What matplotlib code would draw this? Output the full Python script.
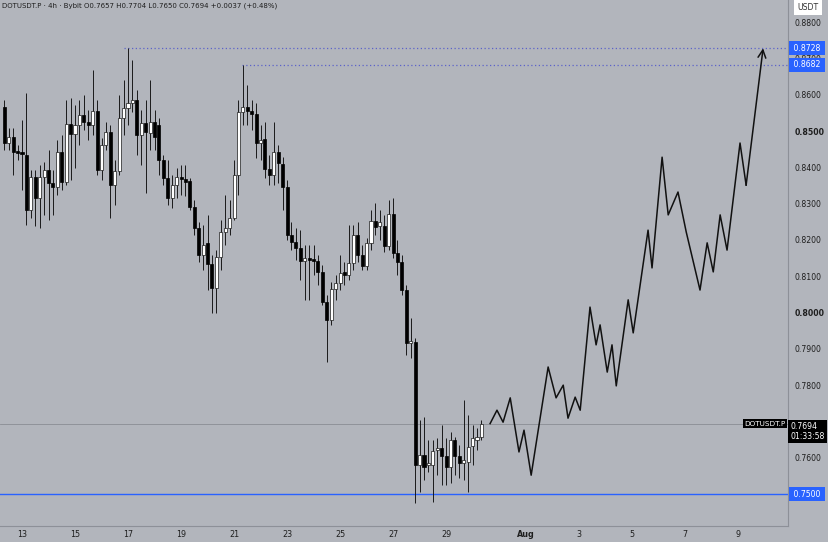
import numpy as np
import pandas as pd
import matplotlib.pyplot as plt

# 4h candles, DOTUSDT.P
opens = [0.8566, 0.8467, 0.8484, 0.8445, 0.8442, 0.8434, 0.8282, 0.8373, 0.8316, 0.8373,
         0.8393, 0.8357, 0.8346, 0.8442, 0.8360, 0.8519, 0.8492, 0.8517, 0.8544, 0.8525,
         0.8517, 0.8555, 0.8393, 0.8462, 0.8497, 0.8351, 0.8390, 0.8536, 0.8563, 0.8577,
         0.8586, 0.8489, 0.8522, 0.8495, 0.8525, 0.8517, 0.8420, 0.8371, 0.8316, 0.8351,
         0.8373, 0.8368, 0.8362, 0.8291, 0.8233, 0.8159, 0.8192, 0.8134, 0.8068, 0.8153,
         0.8222, 0.8233, 0.8260, 0.8379, 0.8552, 0.8566, 0.8555, 0.8547, 0.8467, 0.8478,
         0.8395, 0.8379, 0.8442, 0.8409, 0.8346, 0.8214, 0.8194, 0.8178, 0.8142, 0.8150,
         0.8148, 0.8142, 0.8112, 0.8029, 0.7979, 0.8065, 0.8081, 0.8112, 0.8103, 0.8136,
         0.8214, 0.8159, 0.8128, 0.8192, 0.8252, 0.8238, 0.8238, 0.8183, 0.8271, 0.8164,
         0.8139, 0.8062, 0.7916, 0.7919, 0.7580, 0.7608, 0.7580, 0.7580, 0.7621, 0.7627,
         0.7605, 0.7574, 0.7649, 0.7605, 0.7585, 0.7588, 0.7632, 0.7649, 0.7657]
highs = [0.8586, 0.8508, 0.8508, 0.8462, 0.8530, 0.8605, 0.8393, 0.8393, 0.8406, 0.8415,
         0.8448, 0.8393, 0.8475, 0.8489, 0.8586, 0.8591, 0.8572, 0.8586, 0.8599, 0.8558,
         0.8668, 0.8586, 0.8481, 0.8525, 0.8517, 0.8420, 0.8599, 0.8641, 0.8728, 0.8696,
         0.8613, 0.8558, 0.8586, 0.8641, 0.8558, 0.8536, 0.8434, 0.8420, 0.8379, 0.8398,
         0.8406, 0.8406, 0.8371, 0.8310, 0.8249, 0.8241, 0.8269, 0.8159, 0.8172, 0.8255,
         0.8324, 0.8310, 0.8420, 0.8586, 0.8682, 0.8627, 0.8586, 0.8577, 0.8517, 0.8525,
         0.8434, 0.8525, 0.8462, 0.8428, 0.8365, 0.8249, 0.8233, 0.8227, 0.8186, 0.8186,
         0.8186, 0.8159, 0.8131, 0.8048, 0.8084, 0.8103, 0.8159, 0.8139, 0.8241, 0.8241,
         0.8249, 0.8186, 0.8205, 0.8282, 0.8302, 0.8282, 0.8269, 0.8310, 0.8316, 0.8200,
         0.8159, 0.8076, 0.7985, 0.7930, 0.7704, 0.7712, 0.7649, 0.7649, 0.7654, 0.7690,
         0.7654, 0.7671, 0.7657, 0.7635, 0.7759, 0.7718, 0.7690, 0.7682, 0.7704]
lows = [0.8448, 0.8448, 0.8379, 0.8420, 0.8338, 0.8241, 0.8260, 0.8238, 0.8233, 0.8269,
        0.8255, 0.8269, 0.8324, 0.8338, 0.8351, 0.8365, 0.8398, 0.8462, 0.8503, 0.8475,
        0.8489, 0.8379, 0.8365, 0.8448, 0.8260, 0.8296, 0.8379, 0.8489, 0.8517, 0.8552,
        0.8434, 0.8406, 0.8329, 0.8448, 0.8448, 0.8379, 0.8351, 0.8296, 0.8288, 0.8316,
        0.8324, 0.8321, 0.8282, 0.8214, 0.8139, 0.8117, 0.8062, 0.7999, 0.7999, 0.8117,
        0.8186, 0.8214, 0.8255, 0.8324, 0.8517, 0.8517, 0.8503, 0.8426, 0.8420, 0.8371,
        0.8351, 0.8351, 0.8357, 0.8282, 0.8200, 0.8172, 0.8145, 0.8090, 0.8035, 0.8035,
        0.8103, 0.8076, 0.8021, 0.7864, 0.7966, 0.8035, 0.8062, 0.8076, 0.8090, 0.8117,
        0.8139, 0.8117, 0.8117, 0.8172, 0.8214, 0.8200, 0.8167, 0.8172, 0.8150, 0.8103,
        0.8048, 0.7883, 0.7875, 0.7475, 0.7506, 0.7539, 0.7561, 0.7478, 0.7552, 0.7525,
        0.7525, 0.7530, 0.7552, 0.7544, 0.7539, 0.7506, 0.7580, 0.7621, 0.7650]
closes = [0.8467, 0.8484, 0.8442, 0.8440, 0.8437, 0.8282, 0.8373, 0.8316, 0.8373, 0.8393,
          0.8357, 0.8346, 0.8442, 0.8360, 0.8519, 0.8492, 0.8517, 0.8544, 0.8525, 0.8517,
          0.8555, 0.8393, 0.8462, 0.8497, 0.8351, 0.8390, 0.8536, 0.8563, 0.8577, 0.8586,
          0.8489, 0.8522, 0.8497, 0.8525, 0.8484, 0.8420, 0.8371, 0.8316, 0.8351, 0.8373,
          0.8368, 0.8360, 0.8291, 0.8233, 0.8159, 0.8186, 0.8134, 0.8068, 0.8153, 0.8222,
          0.8233, 0.8260, 0.8379, 0.8552, 0.8566, 0.8555, 0.8547, 0.8467, 0.8475, 0.8395,
          0.8379, 0.8442, 0.8412, 0.8346, 0.8214, 0.8194, 0.8178, 0.8142, 0.8150, 0.8145,
          0.8142, 0.8112, 0.8029, 0.7979, 0.8065, 0.8081, 0.8109, 0.8103, 0.8136, 0.8214,
          0.8159, 0.8128, 0.8192, 0.8252, 0.8236, 0.8249, 0.8183, 0.8271, 0.8164, 0.8139,
          0.8062, 0.7916, 0.7922, 0.7580, 0.7608, 0.7574, 0.7585, 0.7619, 0.7627, 0.7605,
          0.7574, 0.7649, 0.7605, 0.7585, 0.7594, 0.7630, 0.7654, 0.7657, 0.7694]

# projected path (day of July, price)
proj_days = [30.66, 30.92, 31.15, 31.42, 31.75, 31.94, 32.21, 32.85, 33.15, 33.42,
             33.60, 33.87, 34.06, 34.43, 34.66, 34.81, 35.08, 35.26, 35.42, 35.87,
             36.06, 36.62, 36.77, 37.15, 37.38, 37.75, 38.06, 38.58, 38.85, 39.08,
             39.34, 39.60, 40.09, 40.32, 40.96]
proj_prices = [0.7694, 0.7731, 0.7698, 0.7765, 0.7616, 0.7676, 0.7552, 0.7850, 0.7765, 0.7800,
               0.7709, 0.7767, 0.7731, 0.8015, 0.7911, 0.7966, 0.7836, 0.7911, 0.7798, 0.8035,
               0.7944, 0.8227, 0.8123, 0.8428, 0.8269, 0.8332, 0.8222, 0.8062, 0.8192, 0.8112,
               0.8269, 0.8172, 0.8467, 0.8351, 0.8728]

high_1, high_1_day = 0.8728, 16.85
high_2, high_2_day = 0.8682, 21.3
support = 0.7500
last_price = 0.7694

tick_days = [13, 15, 17, 19, 21, 23, 25, 27, 29, 32, 34, 36, 38, 40]
tick_names = ['13', '15', '17', '19', '21', '23', '25', '27', '29', 'Aug', '3', '5', '7', '9']
price_ticks = [0.76, 0.78, 0.79, 0.80, 0.81, 0.82, 0.83, 0.84, 0.85, 0.86, 0.87, 0.88]

bg = '#b2b5bc'
blue = '#2962ff'

times = pd.date_range('2024-07-12 08:00', periods=len(opens), freq='4h')
days = ((times - pd.Timestamp('2024-07-01')).total_seconds() / 86400 + 1).to_numpy()
o = np.array(opens); h = np.array(highs); l = np.array(lows); c = np.array(closes)

fig = plt.figure(figsize=(8.29, 5.42), dpi=100, facecolor=bg)
ax = fig.add_axes([0, 16 / 542, 788 / 829, 526 / 542], facecolor=bg)

up = c >= o
ax.vlines(days, l, h, color='#1a1a1a', lw=0.7, zorder=2)
ax.bar(days[up], c[up] - o[up], bottom=o[up], width=0.115, color='white',
       edgecolor='#1a1a1a', linewidth=0.5, zorder=3)
ax.bar(days[~up], o[~up] - c[~up], bottom=c[~up], width=0.115, color='black',
       edgecolor='black', linewidth=0.5, zorder=3)

# levels
ax.axhline(support, color=blue, lw=1, zorder=1)
ax.axhline(last_price, color='#8a8d94', lw=0.6, zorder=1)
ax.hlines([high_1, high_2], [high_1_day, high_2_day], 42, colors='#5c63c9',
          linestyles=(0, (1, 2)), lw=0.9, zorder=1)

# projection
ax.plot(proj_days[:-1], proj_prices[:-1], color='#111111', lw=1.1, zorder=4)
ax.annotate('', xy=(proj_days[-1], proj_prices[-1]), xytext=(proj_days[-2], proj_prices[-2]),
            arrowprops=dict(arrowstyle='->', color='#111111', lw=1.1,
                            mutation_scale=14, shrinkA=0, shrinkB=0), zorder=4)

ax.set_xlim(12.17, 41.9)
ax.set_ylim(0.7412, 0.8861)

for s in ['top', 'left']:
    ax.spines[s].set_visible(False)
ax.spines['right'].set_color('#8d9098')
ax.spines['bottom'].set_color('#8d9098')
ax.spines['right'].set_linewidth(0.8)
ax.spines['bottom'].set_linewidth(0.8)

ax.set_xticks(tick_days)
ax.set_xticklabels(tick_names)
ax.tick_params(axis='x', length=0, pad=3, labelsize=5.8, colors='#1e1e1e')
for lab in ax.get_xticklabels():
    if lab.get_text() == 'Aug':
        lab.set_fontweight('bold')

ax.yaxis.tick_right()
ax.set_yticks(price_ticks)
ax.set_yticklabels([f'{p:.4f}' for p in price_ticks])
ax.tick_params(axis='y', length=0, pad=5, labelsize=5.6, colors='#1e1e1e')
for lab in ax.get_yticklabels():
    if lab.get_text() in ('0.8500', '0.8000'):
        lab.set_fontweight('bold')

# right-side price tags
tx = ax.get_yaxis_transform()
for p in [high_1, high_2, support]:
    ax.text(1.004, p, f' {p:.4f} ', transform=tx, ha='left', va='center', fontsize=5.6,
            color='white', clip_on=False, zorder=10,
            bbox=dict(boxstyle='square,pad=0.3', fc=blue, ec='none'))
ax.text(1.003, last_price + 0.0004, f'{last_price:.4f}\n01:33:58', transform=tx, ha='left',
        va='top', fontsize=5.6, color='white', clip_on=False, zorder=10, linespacing=1.15,
        bbox=dict(boxstyle='square,pad=0.25', fc='black', ec='none'))
ax.text(0.997, last_price, 'DOTUSDT.P', transform=tx, ha='right', va='center', fontsize=5.2,
        color='white', clip_on=False, zorder=10,
        bbox=dict(boxstyle='square,pad=0.25', fc='black', ec='none'))
fig.text(808 / 829, 1 - 7 / 542, 'USDT', ha='center', va='center', fontsize=5.6,
         color='#333333', bbox=dict(boxstyle='square,pad=0.45', fc='white', ec='none'))

fig.text(2 / 829, 1 - 6 / 542,
         'DOTUSDT.P · 4h · Bybit O0.7657 H0.7704 L0.7650 C0.7694 +0.0037 (+0.48%)',
         ha='left', va='center', fontsize=5.0, color='#1e1e1e')

fig.savefig('out.png', dpi=100, facecolor=bg)
